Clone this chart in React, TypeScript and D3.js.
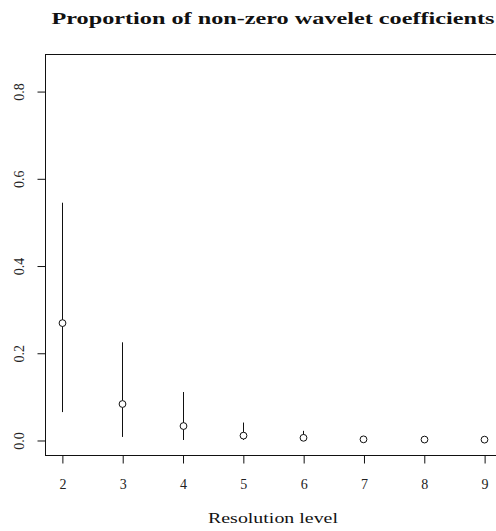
import { type FC, useEffect, useRef } from 'react';
import * as d3 from 'd3';

const levels = [2, 3, 4, 5, 6, 7, 8, 9];
const proportion = [0.268, 0.0825, 0.032, 0.01, 0.005, 0.0015, 0.001, 0.0008];
const upper = [0.544, 0.224, 0.11, 0.04, 0.021, 0.006, 0.004, 0.003];
const lower = [0.064, 0.007, 0.0, 0.0, 0.0, 0.0, 0.0, 0.0];
const yTicks = [0, 0.2, 0.4, 0.6, 0.8];

const title = 'Proportion of non-zero wavelet coefficients';
const xTitle = 'Resolution level';

const width = 496;
const height = 531;
const box = { left: 45, right: 501, top: 54, bottom: 455 };
const ink = '#111111';
const font = '"Liberation Serif", "DejaVu Serif", serif';

const App: FC = () => {
  const ref = useRef<SVGSVGElement>(null);

  useEffect(() => {
    document.body.style.margin = '0';
    const svgEl = ref.current;
    if (!svgEl) {
      return;
    }
    const svg = d3.select(svgEl);
    svg.selectAll('*').remove();

    // R style: 4% extension on both sides
    const xScale = d3.scaleLinear().domain([1.72, 9.28]).range([box.left, box.right]);
    const yScale = d3.scaleLinear().domain([-0.0344, 0.885]).range([box.bottom, box.top]);

    svg.append('rect').attr('width', width).attr('height', height).attr('fill', '#fff');

    // plot box
    svg
      .append('rect')
      .attr('x', box.left + 0.5)
      .attr('y', box.top + 0.5)
      .attr('width', box.right - box.left)
      .attr('height', box.bottom - box.top)
      .attr('fill', 'none')
      .attr('stroke', ink);

    // x axis
    const xAxis = svg
      .append('g')
      .attr('transform', `translate(0.5, ${box.bottom + 0.5})`)
      .call(d3.axisBottom(xScale).tickValues(levels).tickFormat(d3.format('d')).tickSize(8).tickPadding(16));
    xAxis.select('.domain').remove();
    xAxis.selectAll('line').attr('stroke', ink);
    xAxis
      .selectAll('text')
      .attr('font-family', font)
      .attr('font-size', 14)
      .attr('fill', '#222');

    // y axis
    const yAxis = svg
      .append('g')
      .attr('transform', `translate(${box.left + 0.5}, 0.5)`)
      .call(d3.axisLeft(yScale).tickValues(yTicks).tickFormat(d3.format('.1f')).tickSize(8).tickPadding(0));
    yAxis.select('.domain').remove();
    yAxis.selectAll('line').attr('stroke', ink);
    yAxis
      .selectAll('text')
      .attr('font-family', font)
      .attr('font-size', 14)
      .attr('fill', '#222')
      .attr('text-anchor', 'middle')
      .attr('x', 0)
      .attr('dy', 0)
      .attr('transform', 'translate(-22, 0) rotate(-90)');

    // error bars
    svg
      .append('g')
      .selectAll('line')
      .data(levels)
      .join('line')
      .attr('x1', (d) => Math.round(xScale(d)) + 0.5)
      .attr('x2', (d) => Math.round(xScale(d)) + 0.5)
      .attr('y1', (_, i) => yScale(upper[i]))
      .attr('y2', (_, i) => yScale(lower[i]))
      .attr('stroke', ink)
      .attr('stroke-width', 1);

    // points
    svg
      .append('g')
      .selectAll('circle')
      .data(levels)
      .join('circle')
      .attr('cx', (d) => Math.round(xScale(d)) + 0.5)
      .attr('cy', (_, i) => yScale(proportion[i]))
      .attr('r', 3.4)
      .attr('fill', '#fff')
      .attr('stroke', ink)
      .attr('stroke-width', 1);

    // titles
    svg
      .append('text')
      .attr('x', (box.left + box.right) / 2)
      .attr('y', 24)
      .attr('text-anchor', 'middle')
      .attr('font-family', font)
      .attr('font-weight', 'bold')
      .attr('font-size', 17)
      .attr('textLength', 443)
      .attr('lengthAdjust', 'spacingAndGlyphs')
      .attr('fill', ink)
      .text(title);

    svg
      .append('text')
      .attr('x', (box.left + box.right) / 2)
      .attr('y', 523)
      .attr('text-anchor', 'middle')
      .attr('font-family', font)
      .attr('font-size', 15)
      .attr('textLength', 130)
      .attr('lengthAdjust', 'spacingAndGlyphs')
      .attr('fill', ink)
      .text(xTitle);
  }, []);

  return <svg ref={ref} width={width} height={height} style={{ display: 'block' }} />;
};

export default App;
